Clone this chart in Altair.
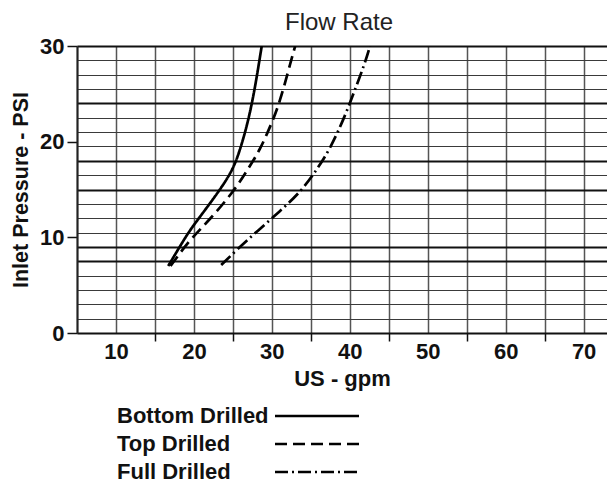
import altair as alt
import pandas as pd

# ---- data ----
series_names = ["Bottom Drilled", "Top Drilled", "Full Drilled"]

bottom_gpm = [16.7, 18.9, 19.8, 22.4, 24.8, 25.8, 26.9, 27.8, 28.7]
bottom_psi = [7.0, 10.0, 11.1, 13.9, 16.7, 18.8, 21.9, 25.4, 30.0]

top_gpm = [17.0, 19.4, 22.0, 25.2, 27.0, 28.5, 29.7, 31.0, 32.5, 33.0]
top_psi = [7.0, 9.7, 11.8, 14.9, 17.2, 19.2, 21.4, 24.0, 28.6, 30.0]

full_gpm = [23.5, 25.5, 28.2, 31.0, 33.7, 35.8, 37.5, 39.3, 40.6, 41.9, 42.6]
full_psi = [7.1, 8.7, 10.7, 12.7, 14.75, 17.1, 19.3, 22.5, 25.3, 28.1, 30.0]

x_axis_values = [5, 10, 15, 20, 25, 30, 35, 40, 45, 50, 55, 60, 65, 70]
y_grid_values = [0, 1.5, 3, 4.5, 6, 7.5, 9, 10.5, 12, 13.5, 15, 16.5, 18,
                 19.5, 21, 22.5, 24, 25.5, 27, 28.5, 30]
y_label_values = [0, 10, 20, 30]
y_thick_grid = [7.5, 9, 15, 18, 24, 30]

rows = []
for name, gs, ps in zip(series_names,
                        [bottom_gpm, top_gpm, full_gpm],
                        [bottom_psi, top_psi, full_psi]):
    for i, (g, p) in enumerate(zip(gs, ps)):
        rows.append({"series": name, "gpm": g, "psi": p, "order": i})
df = pd.DataFrame(rows)

FONT = "Liberation Sans"
INK = "#111111"

y_values = sorted(set(y_grid_values + y_label_values))
label_list = "[" + ",".join(str(v) for v in y_label_values) + "]"
thick_list = "[" + ",".join(str(v) for v in y_thick_grid) + "]"
nogrid_test = " || ".join(
    f"datum.value == {v}" for v in y_label_values if v not in y_grid_values
)

x_enc = alt.X(
    "gpm:Q",
    scale=alt.Scale(domain=[5, 73], nice=False, zero=False),
    axis=alt.Axis(
        values=x_axis_values,
        title="US - gpm",
        labelExpr="datum.value % 10 == 0 && datum.value > 5 ? datum.label : ''",
        labelOverlap=False,
        labelFlush=False,
        labelAngle=0,
        tickOpacity={"condition": {"test": "datum.value % 10 == 0 || datum.value == 5 || datum.value >= 70",
                                   "value": 0}, "value": 1},
        tickSize=8,
        tickWidth=1.5,
        tickColor=INK,
        grid=True,
        gridColor="#555555",
        gridWidth=1.5,
        domainColor=INK,
        domainWidth=2,
        labelFont=FONT,
        labelFontSize=22,
        labelFontWeight="bold",
        labelColor=INK,
        labelPadding=0,
        titleFont=FONT,
        titleFontSize=22,
        titleFontWeight="bold",
        titleColor=INK,
        titlePadding=6,
    ),
)

y_enc = alt.Y(
    "psi:Q",
    scale=alt.Scale(domain=[0, 30], nice=False, zero=True),
    axis=alt.Axis(
        values=y_values,
        title="Inlet Pressure - PSI",
        labelExpr=f"indexof({label_list}, datum.value) >= 0 ? datum.label : ''",
        labelOverlap=False,
        labelFlush=False,
        tickOpacity={"condition": {"test": f"indexof({label_list}, datum.value) < 0", "value": 0},
                     "value": 1},
        tickSize=10,
        tickWidth=1.5,
        tickColor=INK,
        grid=True,
        gridOpacity={"condition": {"test": nogrid_test, "value": 0}, "value": 1},
        gridWidth={"condition": {"test": f"indexof({thick_list}, datum.value) >= 0", "value": 2.0},
                   "value": 1.2},
        gridColor={"condition": {"test": f"indexof({thick_list}, datum.value) >= 0", "value": "#111111"},
                   "value": "#3a3a3a"},
        domainColor="#222222",
        domainWidth=2,
        labelFont=FONT,
        labelFontSize=22,
        labelFontWeight="bold",
        labelColor=INK,
        labelPadding=3,
        titleFont=FONT,
        titleFontSize=21.5,
        titleFontWeight="bold",
        titleColor=INK,
        titlePadding=7,
    ),
)

chart = (
    alt.Chart(df)
    .mark_line(color="black", strokeWidth=2.7, interpolate="basis", clip=True)
    .encode(
        x=x_enc,
        y=y_enc,
        order=alt.Order("order:Q"),
        detail="series:N",
        strokeDash=alt.StrokeDash(
            "series:N",
            scale=alt.Scale(domain=series_names,
                            range=[[1, 0], [12, 6], [13, 4, 2, 4]]),
            legend=alt.Legend(
                title=None,
                orient="none",
                legendX=228,
                legendY=358,
                symbolType="M-4,0L4,0",
                symbolSize=441,
                symbolStrokeWidth=2.7,
                symbolStrokeColor="black",
                symbolFillColor="transparent",
                rowPadding=5,
                labelFont=FONT,
                labelFontSize=22,
                labelFontWeight="bold",
                labelColor=INK,
                labelAlign="left",
                labelOffset={"expr": "-212"},
                labelLimit=0,
            ),
        ),
    )
    .properties(
        width=530,
        height=287,
        title=alt.TitleParams(
            "Flow Rate", font=FONT, fontSize=24, fontWeight="normal",
            color="#222222", offset=0, dx=-3,
        ),
        padding={"left": 2, "top": 3, "right": 0, "bottom": 0},
    )
    .configure_view(stroke=None)
)

chart.save("out.html", embed_options={"renderer": "svg", "actions": False})
